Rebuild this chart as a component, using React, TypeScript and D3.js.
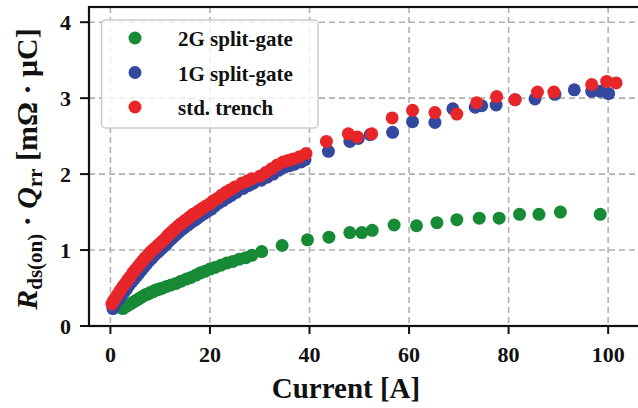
import React from 'react';
import * as d3 from 'd3';

// values: [current A, Rds(on)*Qrr]
const green2G: [number, number][] = [
  [2.5, 0.23], [3, 0.25], [3.5, 0.27], [4, 0.29], [4.5, 0.31], [5, 0.33], [5.5, 0.35], [6, 0.37],
  [6.5, 0.39], [7, 0.41], [7.5, 0.42], [8, 0.44], [8.5, 0.45], [9, 0.47], [9.5, 0.48], [10, 0.49],
  [10.5, 0.5], [11.3, 0.52], [12.2, 0.54], [13.2, 0.56], [14.2, 0.59], [15.3, 0.62], [16.2, 0.64],
  [17.2, 0.67], [18.1, 0.7], [19, 0.72], [20, 0.75], [21, 0.77], [22.2, 0.8], [23.4, 0.83],
  [24.6, 0.85], [25.9, 0.88], [27.2, 0.9], [28.4, 0.93], [30.4, 0.98], [34.5, 1.06], [39.6, 1.135],
  [43.9, 1.17], [48.1, 1.23], [50.5, 1.23], [52.6, 1.26], [57, 1.33], [61.5, 1.32], [65.6, 1.36],
  [69.6, 1.4], [74.1, 1.42], [78.1, 1.42], [82.2, 1.47], [86.1, 1.47], [90.4, 1.5], [98.4, 1.47],
];

const blue1G: [number, number][] = [
  [0.5, 0.23], [0.9, 0.28], [1.3, 0.32], [1.8, 0.36], [2.3, 0.41], [2.8, 0.45], [3.3, 0.49], [3.8, 0.54],
  [4.3, 0.58], [4.8, 0.62], [5.3, 0.66], [5.8, 0.7], [6.3, 0.74], [6.8, 0.78], [7.3, 0.82], [7.8, 0.86],
  [8.3, 0.89], [8.8, 0.93], [9.3, 0.96], [9.8, 0.99], [10.3, 1.02], [10.8, 1.05], [11.3, 1.08],
  [11.8, 1.12], [12.3, 1.15], [12.8, 1.18], [13.3, 1.21], [13.8, 1.24], [14.3, 1.27], [14.8, 1.29],
  [15.3, 1.32], [15.8, 1.34], [16.3, 1.37], [16.9, 1.39], [17.5, 1.42], [18.1, 1.45], [18.8, 1.48],
  [19.5, 1.51], [20.3, 1.54], [21, 1.58], [21.8, 1.62], [22.6, 1.65], [23.5, 1.69], [24.3, 1.72],
  [25.3, 1.76], [26.7, 1.81], [27.8, 1.85], [28.7, 1.88], [30.3, 1.92], [31.5, 1.96], [32.7, 2.0],
  [33.8, 2.05], [35, 2.09], [36, 2.11], [37, 2.13], [38.3, 2.16], [39.1, 2.19], [43.8, 2.3],
  [48.1, 2.43], [49.8, 2.47], [52.2, 2.52], [56.7, 2.55], [60.7, 2.69], [65.2, 2.68], [68.8, 2.86],
  [73.3, 2.88], [74.6, 2.9], [77.5, 2.91], [81.3, 2.98], [85.3, 2.99], [89.3, 3.05], [93.2, 3.11],
  [96.7, 3.09], [98.4, 3.09], [100.1, 3.06],
];

const redTrench: [number, number][] = [
  [0.3, 0.29], [0.6, 0.33], [1, 0.37], [1.5, 0.42], [2, 0.47], [2.5, 0.52], [3, 0.56], [3.5, 0.61],
  [4, 0.65], [4.5, 0.7], [5, 0.74], [5.5, 0.78], [6, 0.82], [6.5, 0.86], [7, 0.9], [7.5, 0.93],
  [8, 0.97], [8.5, 1.0], [9, 1.03], [9.5, 1.06], [10, 1.09], [10.5, 1.12], [11, 1.15], [11.5, 1.19],
  [12, 1.22], [12.5, 1.25], [13, 1.28], [13.5, 1.31], [14, 1.34], [14.5, 1.36], [15, 1.39],
  [15.5, 1.41], [16, 1.44], [16.6, 1.47], [17.2, 1.49], [17.8, 1.52], [18.5, 1.55], [19.2, 1.58],
  [20, 1.61], [20.7, 1.65], [21.5, 1.68], [22.3, 1.72], [23.2, 1.76], [24, 1.79], [25, 1.83],
  [26.4, 1.88], [27.5, 1.91], [28.4, 1.94], [30, 1.97], [31.2, 2.02], [32.4, 2.07], [33.5, 2.12],
  [34.7, 2.16], [35.7, 2.18], [36.7, 2.2], [38, 2.23], [39.3, 2.27], [43.4, 2.43], [47.8, 2.53],
  [49.6, 2.49], [52.5, 2.53], [56.6, 2.74], [60.7, 2.84], [65.2, 2.81], [69.6, 2.79], [73.6, 2.94],
  [77.6, 3.02], [81.3, 2.98], [85.8, 3.08], [89.1, 3.08], [96.7, 3.18], [99.7, 3.22], [101.6, 3.2],
];

const seriesNames = ['2G split-gate', '1G split-gate', 'std. trench'];
const seriesColors = ['#178a36', '#33489e', '#e8262a'];
const xTicks = [0, 20, 40, 60, 80, 100];
const yTicks = [0, 1, 2, 3, 4];

const W = 638;
const H = 408;
const left = 89, right = 641, top = 7, bottom = 326;
const font = '"Liberation Serif", "Times New Roman", serif';

export default function App() {
  const x = d3.scaleLinear().domain([-4.3, 106.6]).range([left, right]);
  const y = d3.scaleLinear().domain([0, 4.2]).range([bottom, top]);
  const all = [green2G, blue1G, redTrench];
  const r = 6.5;

  return (
    <svg width={W} height={H} style={{ position: 'fixed', left: 0, top: 0, background: '#fff' }}
      fontFamily={font} fontWeight="bold">
      {/* grid */}
      <g stroke="#b0b0b0" strokeWidth={1.6} strokeDasharray="6,4">
        {xTicks.map(t => <line key={'gx' + t} x1={x(t)} x2={x(t)} y1={top} y2={bottom} />)}
        {yTicks.map(t => <line key={'gy' + t} x1={left} x2={right} y1={y(t)} y2={y(t)} />)}
      </g>

      {/* points */}
      {all.map((pts, i) => (
        <g key={i} fill={seriesColors[i]}>
          {pts.map((p, j) => <circle key={j} cx={x(p[0])} cy={y(p[1])} r={r} />)}
        </g>
      ))}

      {/* legend */}
      <g>
        <rect x={101.5} y={20} width={216.5} height={108} rx={4} fill="#fff" fillOpacity={0.8}
          stroke="#cccccc" strokeWidth={1.5} />
        {seriesNames.map((n, i) => (
          <g key={n} transform={`translate(0,${38 + i * 34.5})`}>
            <circle cx={135} cy={0} r={r} fill={seriesColors[i]} />
            <text x={178} y={8} fontSize={21} fill="#111">{n}</text>
          </g>
        ))}
      </g>

      {/* frame */}
      <rect x={left} y={top} width={right - left} height={bottom - top} fill="none" stroke="#111" strokeWidth={2.2} />

      {/* x axis */}
      <g fill="#111" fontSize={22} textAnchor="middle">
        {xTicks.map(t => (
          <g key={'xt' + t}>
            <line x1={x(t)} x2={x(t)} y1={bottom} y2={bottom + 8} stroke="#111" strokeWidth={2} />
            <text x={x(t)} y={362}>{t}</text>
          </g>
        ))}
      </g>
      <text x={346} y={398} fontSize={29} textAnchor="middle" fill="#111">Current [A]</text>

      {/* y axis */}
      <g fill="#111" fontSize={22} textAnchor="end">
        {yTicks.map(t => (
          <g key={'yt' + t}>
            <line x1={left - 9} x2={left} y1={y(t)} y2={y(t)} stroke="#111" strokeWidth={2} />
            <text x={71} y={y(t) + 8}>{t}</text>
          </g>
        ))}
      </g>
      <text transform="translate(37,169) rotate(-90)" textAnchor="middle" fontSize={30} fill="#111">
        <tspan fontStyle="italic">R</tspan>
        <tspan fontSize={21} dy={5}>ds(on)</tspan>
        <tspan dy={-5}> · </tspan>
        <tspan fontStyle="italic">Q</tspan>
        <tspan fontSize={21} dy={5}>rr</tspan>
        <tspan dy={-5}> [mΩ · μC]</tspan>
      </text>
    </svg>
  );
}
